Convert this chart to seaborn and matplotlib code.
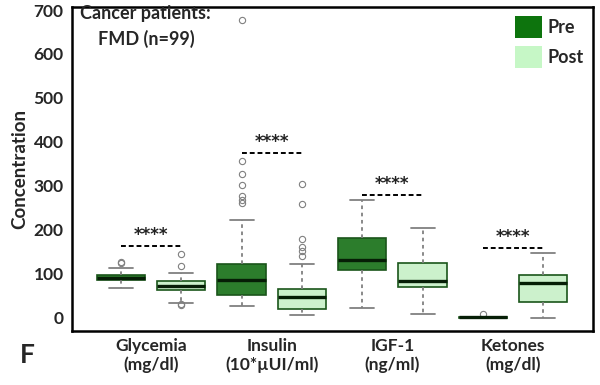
import matplotlib

matplotlib.use("Agg")
import matplotlib.pyplot as plt
from matplotlib.patches import Patch
import seaborn as sns
import pandas as pd

categorias = [
    "Glycemia\n(mg/dl)",
    "Insulin\n(10*µUI/ml)",
    "IGF-1\n(ng/ml)",
    "Ketones\n(mg/dl)",
]
fases = ["Pre", "Post"]

# resumen de cada caja (Glycemia, Insulin, IGF-1, Ketones)
pre_q1 = [86, 52, 109, 0]
pre_mediana = [91, 86, 132, 1]
pre_q3 = [98, 123, 181, 2]
pre_bigote_bajo = [69, 26, 23, 0]
pre_bigote_alto = [114, 223, 267, 3]
pre_atipicos = [[124, 128], [261, 268, 277, 302, 327, 357, 677], [], [8]]

post_q1 = [64, 20, 70, 37]
post_mediana = [73, 47, 85, 79]
post_q3 = [84, 65, 124, 98]
post_bigote_bajo = [35, 7, 9, 0]
post_bigote_alto = [103, 122, 204, 148]
post_atipicos = [[30, 32, 119, 145], [141, 151, 161, 180, 258, 304], [], []]

# altura de las lineas de significancia
significancia_y = [164, 376, 280, 160]

colores = {"Pre": "#1f8a1f", "Post": "#c6f7c6"}
colores_leyenda = {"Pre": "#0d740d", "Post": "#c6f7c6"}


def muestra(bajo, q1, med, q3, alto, extra, k=20):
    # reconstruye una muestra cuyos cuartiles coinciden con los leidos
    return [bajo] + [q1] * k + [med] * k + [q3] * k + [alto] + list(extra)


filas = []
for i, cat in enumerate(categorias):
    for v in muestra(pre_bigote_bajo[i], pre_q1[i], pre_mediana[i], pre_q3[i],
                     pre_bigote_alto[i], pre_atipicos[i]):
        filas.append({"categoria": cat, "fase": "Pre", "valor": v})
    for v in muestra(post_bigote_bajo[i], post_q1[i], post_mediana[i], post_q3[i],
                     post_bigote_alto[i], post_atipicos[i]):
        filas.append({"categoria": cat, "fase": "Post", "valor": v})
df = pd.DataFrame(filas)

sns.set_style("white")
plt.rcParams["font.family"] = ["Lato", "DejaVu Sans"]

fig = plt.figure(figsize=(6, 3.85), dpi=100)
ax = fig.add_axes([0.12, 0.14, 0.868, 0.842])

sns.boxplot(
    data=df,
    x="categoria",
    y="valor",
    hue="fase",
    order=categorias,
    hue_order=fases,
    palette=colores,
    width=1.0,
    gap=0.2,
    linewidth=1.2,
    linecolor="#1a551a",
    whiskerprops=dict(color="#808080", linestyle=(0, (2, 2)), linewidth=1.3),
    capprops=dict(color="#808080", linewidth=1.3),
    medianprops=dict(color="#061e06", linewidth=2.4),
    flierprops=dict(marker="o", markersize=4.5, markerfacecolor="none",
                    markeredgecolor="#808080", markeredgewidth=0.8),
    ax=ax,
)

# lineas de significancia con asteriscos
for i, y in enumerate(significancia_y):
    ax.plot([i - 0.25, i + 0.25], [y, y], color="black", linestyle=(0, (2.5, 1.5)),
            linewidth=1.4)
    ax.text(i, y + 3, "****", ha="center", va="bottom", fontsize=12,
            fontweight="bold", color="#222222", family="DejaVu Sans")

ax.set_xlim(-0.655, 3.66)
ax.set_ylim(-30, 707)
ax.set_yticks(range(0, 701, 100))
ax.tick_params(axis="y", length=4, width=1.5, labelsize=12.5, pad=2)
ax.tick_params(axis="x", length=0, labelsize=12.5, pad=5)
for t in ax.get_xticklabels() + ax.get_yticklabels():
    t.set_fontweight("bold")
ax.set_xlabel("")
ax.set_ylabel("Concentration", fontsize=13.5, fontweight="bold", labelpad=4)

for spine in ax.spines.values():
    spine.set_visible(True)
    spine.set_color("black")
    spine.set_linewidth(1.8)

ax.get_legend().remove()
handles = [Patch(facecolor=colores_leyenda[f], edgecolor="none") for f in fases]
ax.legend(handles, fases, loc="upper right", frameon=False,
          prop=dict(weight="bold", size=13), handlelength=1.5, handleheight=1.5,
          handletextpad=0.3, labelspacing=0.45, borderaxespad=0.1)

fig.text(80 / 600, 1 - 14 / 385, "Cancer patients:", fontsize=13, fontweight="bold",
         va="center", ha="left")
fig.text(146 / 600, 1 - 39 / 385, "FMD (n=99)", fontsize=13, fontweight="bold",
         va="center", ha="center")
fig.text(20 / 600, 1 - 355 / 385, "F", fontsize=19, fontweight="bold", va="center",
         ha="left")

fig.savefig("out.png", dpi=100, facecolor="white")
plt.close(fig)
